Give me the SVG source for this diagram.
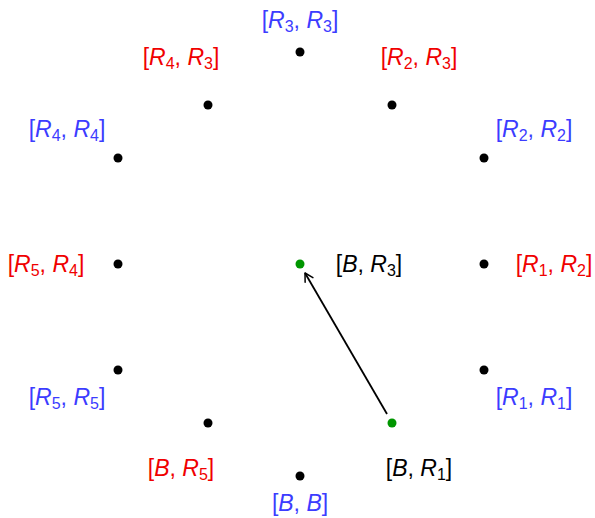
<svg xmlns="http://www.w3.org/2000/svg" width="595" height="518" viewBox="0 0 595 518">
<style>
text{font-family:"Liberation Sans",Arial,sans-serif;font-size:23px;text-anchor:middle}
.b{fill:#3c3cff}.r{fill:#f00000}.k{fill:#000}
.i{font-style:italic}
.s{font-size:16px}
.dot{fill:#000}.g{fill:#009600}
</style>
<defs>
<marker id="ah" markerWidth="12" markerHeight="12" refX="10" refY="6" orient="auto" markerUnits="userSpaceOnUse">
<path d="M2,1.5 L10,6 L2,10.5" fill="none" stroke="#000" stroke-width="1.5" stroke-linecap="round" stroke-linejoin="round"/>
</marker>
</defs>
<rect width="595" height="518" fill="#fff"/>
<g id="connectors">
<line x1="387" y1="414" x2="305" y2="273" stroke="#000" stroke-width="1.8" marker-end="url(#ah)"/>
</g>
<g id="n-R3R3"><circle class="dot" cx="300" cy="52" r="4.5"/><text class="b" x="300" y="28">[<tspan class="i">R</tspan><tspan class="s" dy="4">3</tspan><tspan dy="-4">, </tspan><tspan class="i">R</tspan><tspan class="s" dy="4">3</tspan><tspan dy="-4">]</tspan></text></g>
<g id="n-R4R3"><circle class="dot" cx="208" cy="105" r="4.5"/><text class="r" x="181" y="65">[<tspan class="i">R</tspan><tspan class="s" dy="4">4</tspan><tspan dy="-4">, </tspan><tspan class="i">R</tspan><tspan class="s" dy="4">3</tspan><tspan dy="-4">]</tspan></text></g>
<g id="n-R2R3"><circle class="dot" cx="392" cy="105" r="4.5"/><text class="r" x="419" y="65">[<tspan class="i">R</tspan><tspan class="s" dy="4">2</tspan><tspan dy="-4">, </tspan><tspan class="i">R</tspan><tspan class="s" dy="4">3</tspan><tspan dy="-4">]</tspan></text></g>
<g id="n-R4R4"><circle class="dot" cx="118" cy="158" r="4.5"/><text class="b" x="67" y="137">[<tspan class="i">R</tspan><tspan class="s" dy="4">4</tspan><tspan dy="-4">, </tspan><tspan class="i">R</tspan><tspan class="s" dy="4">4</tspan><tspan dy="-4">]</tspan></text></g>
<g id="n-R2R2"><circle class="dot" cx="484" cy="158" r="4.5"/><text class="b" x="534" y="137">[<tspan class="i">R</tspan><tspan class="s" dy="4">2</tspan><tspan dy="-4">, </tspan><tspan class="i">R</tspan><tspan class="s" dy="4">2</tspan><tspan dy="-4">]</tspan></text></g>
<g id="n-R5R4"><circle class="dot" cx="118" cy="264" r="4.5"/><text class="r" x="46" y="272">[<tspan class="i">R</tspan><tspan class="s" dy="4">5</tspan><tspan dy="-4">, </tspan><tspan class="i">R</tspan><tspan class="s" dy="4">4</tspan><tspan dy="-4">]</tspan></text></g>
<g id="n-R1R2"><circle class="dot" cx="484" cy="264" r="4.5"/><text class="r" x="554" y="272">[<tspan class="i">R</tspan><tspan class="s" dy="4">1</tspan><tspan dy="-4">, </tspan><tspan class="i">R</tspan><tspan class="s" dy="4">2</tspan><tspan dy="-4">]</tspan></text></g>
<g id="n-BR3"><circle class="g" cx="300" cy="264" r="4.5"/><text class="k" x="369" y="272">[<tspan class="i">B</tspan>, <tspan class="i">R</tspan><tspan class="s" dy="4">3</tspan><tspan dy="-4">]</tspan></text></g>
<g id="n-R5R5"><circle class="dot" cx="118" cy="370" r="4.5"/><text class="b" x="67" y="405">[<tspan class="i">R</tspan><tspan class="s" dy="4">5</tspan><tspan dy="-4">, </tspan><tspan class="i">R</tspan><tspan class="s" dy="4">5</tspan><tspan dy="-4">]</tspan></text></g>
<g id="n-R1R1"><circle class="dot" cx="484" cy="370" r="4.5"/><text class="b" x="534" y="405">[<tspan class="i">R</tspan><tspan class="s" dy="4">1</tspan><tspan dy="-4">, </tspan><tspan class="i">R</tspan><tspan class="s" dy="4">1</tspan><tspan dy="-4">]</tspan></text></g>
<g id="n-BR5"><circle class="dot" cx="208" cy="423" r="4.5"/><text class="r" x="181" y="476">[<tspan class="i">B</tspan>, <tspan class="i">R</tspan><tspan class="s" dy="4">5</tspan><tspan dy="-4">]</tspan></text></g>
<g id="n-BR1"><circle class="g" cx="392" cy="423" r="4.5"/><text class="k" x="419" y="476">[<tspan class="i">B</tspan>, <tspan class="i">R</tspan><tspan class="s" dy="4">1</tspan><tspan dy="-4">]</tspan></text></g>
<g id="n-BB"><circle class="dot" cx="300" cy="476" r="4.5"/><text class="b" x="300" y="511">[<tspan class="i">B</tspan>, <tspan class="i">B</tspan>]</text></g>
</svg>
